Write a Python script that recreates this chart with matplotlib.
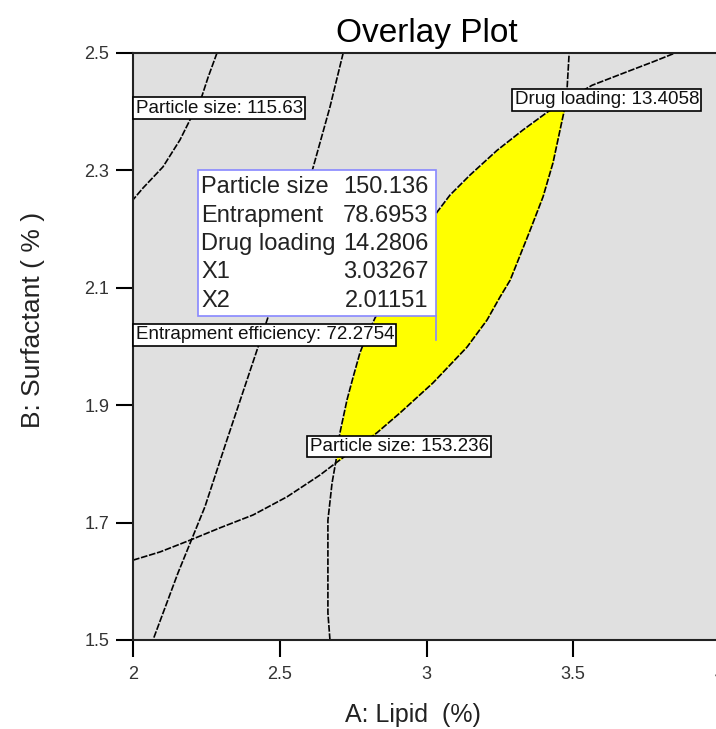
import numpy as np
import matplotlib.pyplot as plt
from matplotlib.patches import Rectangle

plt.rcParams['font.family'] = ['Liberation Sans', 'DejaVu Sans']

# contour lines (A: Lipid, B: Surfactant)
ps115_x = [2.286, 2.256, 2.235, 2.194, 2.160, 2.102, 2.034, 2.0]
ps115_y = [2.5, 2.459, 2.427, 2.386, 2.352, 2.306, 2.270, 2.250]

ee_x = [2.716, 2.671, 2.613, 2.460, 2.320, 2.245, 2.153, 2.068]
ee_y = [2.5, 2.408, 2.304, 2.050, 1.841, 1.727, 1.614, 1.5]

ps153_x = [2.0, 2.092, 2.194, 2.296, 2.409, 2.525, 2.637, 2.692, 2.831, 2.910, 3.022,
           3.138, 3.206, 3.250, 3.285, 3.353, 3.397, 3.431, 3.455, 3.468, 3.479, 3.486]
ps153_y = [1.636, 1.650, 1.670, 1.691, 1.713, 1.744, 1.781, 1.802, 1.853, 1.887, 1.938,
           1.999, 2.045, 2.084, 2.113, 2.198, 2.255, 2.313, 2.369, 2.399, 2.440, 2.5]

dl_x = [2.671, 2.664, 2.664, 2.678, 2.692, 2.705, 2.729, 2.750, 2.773, 2.794, 2.825, 2.910,
        3.036, 3.080, 3.148, 3.240, 3.329, 3.411, 3.489, 3.564, 3.683, 3.772, 3.847]
dl_y = [1.5, 1.546, 1.704, 1.767, 1.807, 1.853, 1.909, 1.948, 1.989, 2.016, 2.049, 2.122,
        2.229, 2.258, 2.292, 2.334, 2.369, 2.399, 2.423, 2.445, 2.468, 2.485, 2.5]

flag_names = ['Particle size', 'Entrapment', 'Drug loading', 'X1', 'X2']
flag_values = ['150.136', '78.6953', '14.2806', '3.03267', '2.01151']
flag_x = 3.03267
flag_y = 2.01151

xticks = [2, 2.5, 3, 3.5, 4]
xtick_labels = ['2', '2.5', '3', '3.5', '4']
yticks = [1.5, 1.7, 1.9, 2.1, 2.3, 2.5]
ytick_labels = ['1.5', '1.7', '1.9', '2.1', '2.3', '2.5']

fig = plt.figure(figsize=(7.16, 7.29), dpi=100)
ax = fig.add_axes([0.1858, 0.1221, 0.8198, 0.8052])
ax.set_facecolor('#e0e0e0')
ax.set_xlim(2, 4)
ax.set_ylim(1.5, 2.5)

# yellow design space between the two bounding contours
yy = np.linspace(1.5, 2.5, 800)
xa = np.interp(yy, dl_y, dl_x)
xb = np.interp(yy, ps153_y, ps153_x)
ax.fill_betweenx(yy, xa, xb, where=xa < xb, color='#ffff00', lw=0, zorder=1)

ls = (0, (4, 1))
for xs, ys in [(ps115_x, ps115_y), (ee_x, ee_y), (ps153_x, ps153_y), (dl_x, dl_y)]:
    ax.plot(xs, ys, color='black', lw=1.2, ls=ls, zorder=2)

box = dict(boxstyle='square,pad=0.12', fc='white', ec='black', lw=1.2)
kw = dict(fontsize=13.5, va='center', ha='left', bbox=box, zorder=4, color='#111111')
ax.text(2.009, 2.406, 'Particle size: 115.63', **kw)
ax.text(3.300, 2.420, 'Drug loading: 13.4058', **kw)
ax.text(2.009, 2.020, 'Entrapment efficiency: 72.2754', **kw)
ax.text(2.602, 1.830, 'Particle size: 153.236', **kw)

# flag box
ax.add_patch(Rectangle((2.2215, 2.052), flag_x - 2.2215, 0.249, fc='white', ec='#8888ff', lw=1.2, zorder=5))
ax.plot([flag_x, flag_x], [2.052, flag_y], color='#8888ff', lw=1.2, zorder=5)
for i in range(len(flag_names)):
    ty = 2.271 - i * 0.0483
    ax.text(2.233, ty, flag_names[i], fontsize=17, va='center', ha='left', color='#222222', zorder=6)
    ax.text(3.006, ty, flag_values[i], fontsize=17, va='center', ha='right', color='#222222', zorder=6)

ax.set_xticks(xticks)
ax.set_xticklabels(xtick_labels)
ax.set_yticks(yticks)
ax.set_yticklabels(ytick_labels)
ax.tick_params(axis='x', direction='out', length=12, width=1.5, pad=7, labelsize=13, labelcolor='#333333')
ax.tick_params(axis='y', direction='out', length=12, width=1.5, pad=5, labelsize=13, labelcolor='#333333')
for s in ax.spines.values():
    s.set_linewidth(1.5)
    s.set_color('#222222')

ax.set_title('Overlay Plot', fontsize=24, pad=8)
ax.set_xlabel('A: Lipid  (%)', fontsize=18, color='#222222')
ax.xaxis.set_label_coords(0.477, -0.107)
ax.set_ylabel('B: Surfactant ( % )', fontsize=19, color='#222222')
ax.yaxis.set_label_coords(-0.150, 0.545)

fig.savefig('out.png', dpi=100)
